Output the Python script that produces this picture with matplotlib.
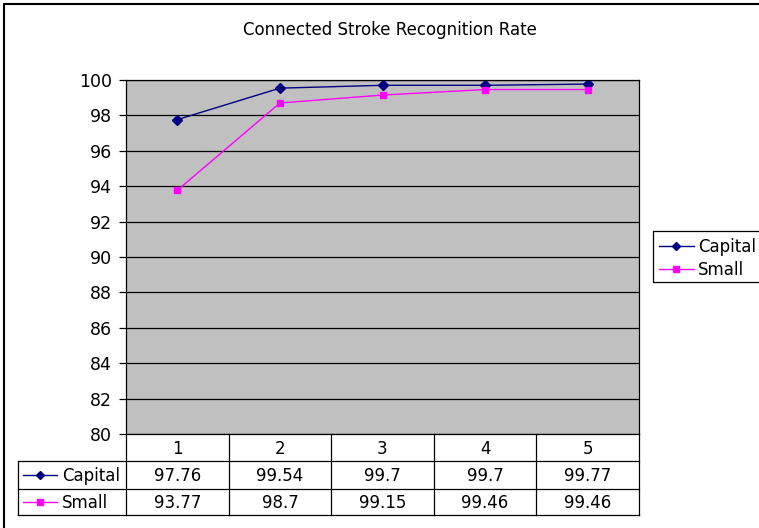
import numpy as np
import matplotlib
matplotlib.use("Agg")
import matplotlib.pyplot as plt

plt.rcParams['font.family'] = ['DejaVu Sans']

categories = ['1', '2', '3', '4', '5']
capital = [97.76, 99.54, 99.7, 99.7, 99.77]
small = [93.77, 98.7, 99.15, 99.46, 99.46]
capital_txt = ['97.76', '99.54', '99.7', '99.7', '99.77']
small_txt = ['93.77', '98.7', '99.15', '99.46', '99.46']
title = 'Connected Stroke Recognition Rate'

W, H = 759, 528
fig = plt.figure(figsize=(W / 100, H / 100), dpi=100)

# overlay in pixel coords for border, table and legend
ov = fig.add_axes([0, 0, 1, 1])
ov.set_xlim(0, W)
ov.set_ylim(H, 0)
ov.axis('off')

# plot area (pixels)
px0, px1, py0, py1 = 126, 639, 80, 434
ax = fig.add_axes([px0 / W, 1 - py1 / H, (px1 - px0) / W, (py1 - py0) / H])
ax.set_facecolor('#C0C0C0')
x = np.arange(1, len(categories) + 1)
ax.plot(x, capital, color='#000080', marker='D', markersize=5, lw=1, label='Capital')
ax.plot(x, small, color='#FF00FF', marker='s', markersize=5, lw=1, label='Small')
ax.set_xlim(0.5, len(categories) + 0.5)
ax.set_ylim(80, 100)
ax.set_yticks(np.arange(80, 101, 2))
ax.yaxis.grid(True, color='black', lw=0.9)
ax.set_axisbelow(True)
ax.set_xticks([])
ax.tick_params(axis='y', direction='out', length=5, width=0.9, labelsize=12.5, pad=5, color='black')
for s in ax.spines.values():
    s.set_color('black')
    s.set_linewidth(0.9)

# outer chart border (only top and left visible)
ov.plot([4, 4, W], [H, 4, 4], color='black', lw=1.5)

# title
ov.text(390, 30, title, ha='center', va='center', fontsize=12)

# data table
tx0 = 18
colw = (px1 - px0) / len(categories)
r0, r1, r2, r3 = py1, 461, 489, 515
lc = 'black'
lw = 0.9
ov.plot([px0, px0], [r0, r3], color=lc, lw=lw)
ov.plot([px1, px1], [r0, r3], color=lc, lw=lw)
for i in range(1, len(categories)):
    xx = px0 + i * colw
    ov.plot([xx, xx], [r0, r3], color=lc, lw=lw)
ov.plot([tx0, px1], [r1, r1], color=lc, lw=lw)
ov.plot([tx0, px1], [r2, r2], color=lc, lw=lw)
ov.plot([tx0, px1], [r3, r3], color=lc, lw=lw)
ov.plot([tx0, tx0], [r1, r3], color=lc, lw=lw)
for i, c in enumerate(categories):
    cx = px0 + (i + 0.5) * colw
    ov.text(cx, (r0 + r1) / 2 + 1, c, ha='center', va='center', fontsize=12)
    ov.text(cx, (r1 + r2) / 2 + 1, capital_txt[i], ha='center', va='center', fontsize=12)
    ov.text(cx, (r2 + r3) / 2 + 1, small_txt[i], ha='center', va='center', fontsize=12)
# legend keys in table
for (yy, col, mk, name) in [((r1 + r2) / 2, '#000080', 'D', 'Capital'),
                            ((r2 + r3) / 2, '#FF00FF', 's', 'Small')]:
    ov.plot([23, 57], [yy, yy], color=col, lw=1)
    ov.plot([40], [yy], color=col, marker=mk, markersize=4.5 if mk == 'D' else 5)
    ov.text(62, yy + 1, name, ha='left', va='center', fontsize=12)

# legend box
ov.plot([W, 653, 653, W], [231, 231, 282, 282], color='black', lw=0.9)
for (yy, col, mk, name) in [(246, '#000080', 'D', 'Capital'),
                            (269, '#FF00FF', 's', 'Small')]:
    ov.plot([659, 694], [yy, yy], color=col, lw=1)
    ov.plot([676], [yy], color=col, marker=mk, markersize=4.5 if mk == 'D' else 5)
    ov.text(698, yy + 1, name, ha='left', va='center', fontsize=12)

plt.savefig('out.png', dpi=100)
